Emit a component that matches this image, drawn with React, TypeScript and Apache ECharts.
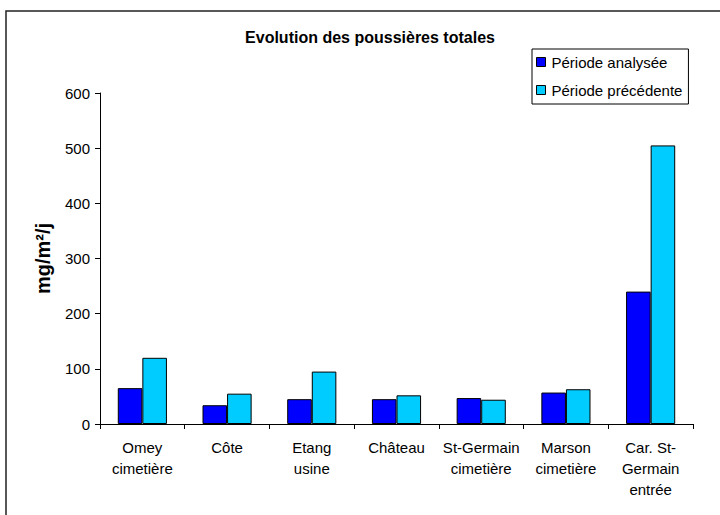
import React, { useEffect, useRef } from "react";
import * as echarts from "echarts";

const categories = [
  "Omey\ncimetière",
  "Côte",
  "Etang\nusine",
  "Château",
  "St-Germain\ncimetière",
  "Marson\ncimetière",
  "Car. St-\nGermain\nentrée",
];
const periodeAnalysee = [65, 34, 45, 45, 47, 57, 240];
const periodePrecedente = [120, 55, 95, 52, 44, 63, 505];
const yTicks = [0, 100, 200, 300, 400, 500, 600];

export default function App() {
  const ref = useRef<HTMLDivElement>(null);
  useEffect(() => {
    if (!ref.current) return;
    const chart = echarts.init(ref.current, null, { renderer: "svg" });
    const font = "Arial, 'Liberation Sans', sans-serif";
    chart.setOption({
      animation: false,
      backgroundColor: "#ffffff",
      textStyle: { fontFamily: font },
      graphic: [
        {
          type: "rect",
          shape: { x: 6, y: 11, width: 800, height: 600 },
          style: { fill: "none", stroke: "#222", lineWidth: 1.5 },
          silent: true,
          z: 100,
        },
      ],
      title: {
        text: "Evolution des poussières totales",
        left: 370,
        textAlign: "center",
        top: 29,
        padding: 0,
        textStyle: { fontSize: 16, fontWeight: "bold", color: "#000", fontFamily: font },
      },
      legend: {
        orient: "vertical",
        left: 532,
        top: 49,
        icon: "rect",
        itemWidth: 9,
        itemHeight: 9,
        itemGap: 12,
        padding: [5, 6, 6, 4],
        borderColor: "#000",
        borderWidth: 1,
        itemStyle: { borderColor: "#000", borderWidth: 1 },
        textStyle: { fontSize: 15, lineHeight: 16, color: "#000", fontFamily: font, padding: [0, 0, 0, 1] },
        data: ["Période analysée", "Période précédente"],
      },
      grid: { left: 100, right: 27, top: 93, bottom: 91 },
      xAxis: {
        type: "category",
        data: categories,
        axisLine: { lineStyle: { color: "#000", width: 1 } },
        axisTick: { show: true, alignWithLabel: false, length: 5, lineStyle: { color: "#000" } },
        axisLabel: {
          color: "#000",
          fontSize: 15,
          lineHeight: 21,
          margin: 13,
          interval: 0,
          fontFamily: font,
        },
      },
      yAxis: {
        type: "value",
        min: 0,
        max: 600,
        interval: 100,
        name: "mg/m²/j",
        nameLocation: "middle",
        nameGap: 47,
        nameTextStyle: { fontSize: 20, fontWeight: "bold", color: "#000", fontFamily: font },
        axisLine: { show: true, lineStyle: { color: "#000", width: 1 } },
        axisTick: { show: true, length: 5, lineStyle: { color: "#000" } },
        axisLabel: {
          color: "#000",
          fontSize: 15,
          margin: 10,
          fontFamily: font,
          formatter: (v: number) => (yTicks.includes(v) ? String(v) : ""),
        },
        splitLine: { show: false },
      },
      series: [
        {
          name: "Période analysée",
          type: "bar",
          data: periodeAnalysee,
          barWidth: "29%",
          barGap: "0%",
          itemStyle: { color: "#0000FF", borderColor: "#000", borderWidth: 1 },
        },
        {
          name: "Période précédente",
          type: "bar",
          data: periodePrecedente,
          barWidth: "29%",
          barGap: "0%",
          itemStyle: { color: "#00CCFF", borderColor: "#000", borderWidth: 1 },
        },
      ],
    });
    return () => chart.dispose();
  }, []);
  return (
    <div
      ref={ref}
      style={{ position: "absolute", left: 0, top: 0, width: 720, height: 515 }}
    />
  );
}
